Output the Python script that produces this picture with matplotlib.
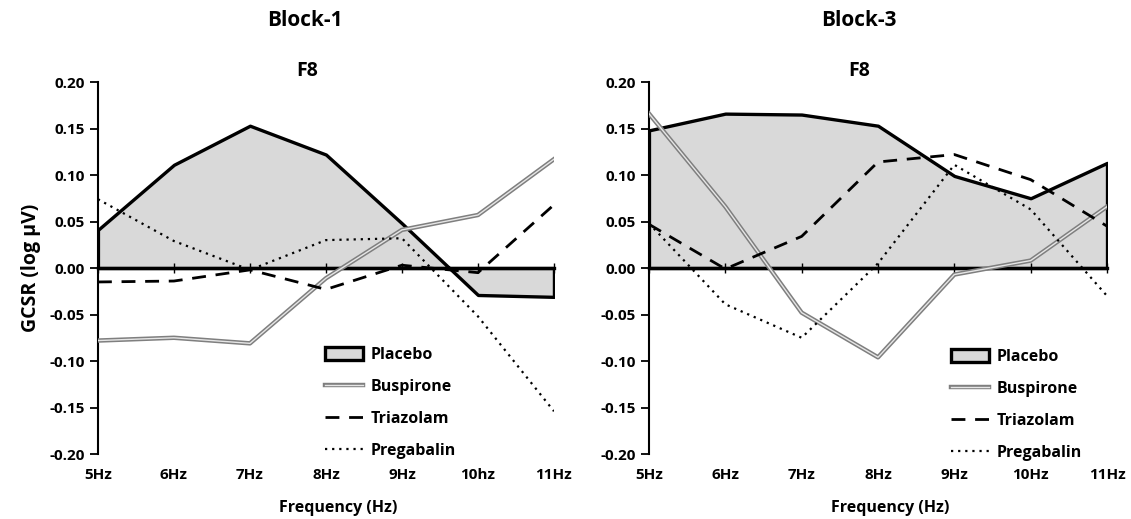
"""
Recreate GCSR F8 line/area chart, Block-1 and Block-3
"""

import matplotlib
matplotlib.use('Agg')
import matplotlib.pyplot as plt
import matplotlib.patches as mpatches
import matplotlib.lines as mlines

plt.rcParams['font.family'] = ['Open Sans', 'DejaVu Sans']
plt.rcParams['font.weight'] = 'bold'

# --- data
freqs = ['5Hz', '6Hz', '7Hz', '8Hz', '9Hz', '10hz', '11Hz']
freqs_b3 = ['5Hz', '6Hz', '7Hz', '8Hz', '9Hz', '10Hz', '11Hz']

placebo_b1 = [0.041, 0.111, 0.153, 0.122, 0.048, -0.029, -0.031]
buspirone_b1 = [-0.078, -0.075, -0.081, -0.011, 0.041, 0.057, 0.117]
triazolam_b1 = [-0.015, -0.014, -0.002, -0.023, 0.003, -0.005, 0.068]
pregabalin_b1 = [0.074, 0.029, -0.002, 0.030, 0.032, -0.052, -0.154]

placebo_b3 = [0.148, 0.166, 0.165, 0.153, 0.099, 0.075, 0.113]
buspirone_b3 = [0.166, 0.066, -0.048, -0.096, -0.007, 0.008, 0.066]
triazolam_b3 = [0.047, -0.001, 0.034, 0.114, 0.122, 0.095, 0.045]
pregabalin_b3 = [0.048, -0.039, -0.075, 0.005, 0.111, 0.063, -0.030]

yticks = [-0.20, -0.15, -0.10, -0.05, 0.00, 0.05, 0.10, 0.15, 0.20]


# === one panel
def plot_panel(ax, labels, placebo, buspirone, triazolam, pregabalin, legend_xy):
    x = list(range(len(labels)))

    ax.fill_between(x, placebo, 0, facecolor='#d9d9d9', edgecolor='black', lw=2.4, zorder=1)
    ax.plot(x, buspirone, color='#7f7f7f', lw=3.2, zorder=3)
    ax.plot(x, buspirone, color='#e6e6e6', lw=1.0, zorder=3)
    ax.plot(x, triazolam, color='black', lw=2.0, dashes=(5, 3.5), zorder=3)
    ax.plot(x, pregabalin, color='black', lw=1.6, ls=(0, (1, 2.2)), zorder=3)

    ax.set_xlim(0, len(labels) - 1)
    ax.set_ylim(-0.2, 0.2)
    ax.set_yticks(yticks)
    ax.set_yticklabels(['%.2f' % v for v in yticks])
    ax.tick_params(axis='y', direction='out', length=5.5, width=1.3, pad=4, labelsize=11)

    for s in ['top', 'right']:
        ax.spines[s].set_visible(False)
    ax.spines['left'].set_linewidth(1.5)
    ax.spines['bottom'].set_position(('data', 0))
    ax.spines['bottom'].set_linewidth(2.4)
    ax.set_xticks(x)
    ax.tick_params(axis='x', direction='inout', length=7, width=1.0, labelbottom=False)

    sec = ax.secondary_xaxis('bottom')
    sec.set_xticks(x)
    sec.set_xticklabels(labels)
    sec.tick_params(length=0, pad=10, labelsize=11)
    sec.spines['bottom'].set_visible(False)

    ax.text(0.458, 1.03, 'F8', transform=ax.transAxes, ha='center', va='center',
            fontsize=14, fontweight='bold')
    ax.text(0.527, -0.145, 'Frequency (Hz)', transform=ax.transAxes, ha='center',
            va='center', fontsize=11.5, fontweight='bold')

    # --- legend
    h_pl = mpatches.Patch(facecolor='#d9d9d9', edgecolor='black', lw=2.4)
    h_bu = (mlines.Line2D([], [], color='#7f7f7f', lw=3.2),
            mlines.Line2D([], [], color='#e6e6e6', lw=1.0))
    h_tr = mlines.Line2D([], [], color='black', lw=2.0, dashes=(5, 3.5))
    h_pg = mlines.Line2D([], [], color='black', lw=1.6, ls=(0, (1, 2.2)))
    ax.legend([h_pl, h_bu, h_tr, h_pg], ['Placebo', 'Buspirone', 'Triazolam', 'Pregabalin'],
              loc='upper left', bbox_to_anchor=legend_xy, frameon=False,
              prop={'size': 11.5, 'weight': 'bold'}, handlelength=2.4,
              handleheight=0.9, handletextpad=0.45, labelspacing=1.0, borderpad=0)


fig = plt.figure(figsize=(11.31, 5.19), dpi=100)
ax1 = fig.add_axes([0.0866, 0.1252, 0.4032, 0.7168])
ax2 = fig.add_axes([0.5738, 0.1252, 0.4050, 0.7168])

plot_panel(ax1, freqs, placebo_b1, buspirone_b1, triazolam_b1, pregabalin_b1, (0.48, 0.31))
plot_panel(ax2, freqs_b3, placebo_b3, buspirone_b3, triazolam_b3, pregabalin_b3, (0.642, 0.305))

ax1.set_ylabel('GCSR (log \u00b5V)', fontsize=14, fontweight='bold', labelpad=6)

fig.text(0.2697, 0.96, 'Block-1', ha='center', va='center', fontsize=15, fontweight='bold')
fig.text(0.7595, 0.96, 'Block-3', ha='center', va='center', fontsize=15, fontweight='bold')

fig.savefig('out.png', dpi=100)
